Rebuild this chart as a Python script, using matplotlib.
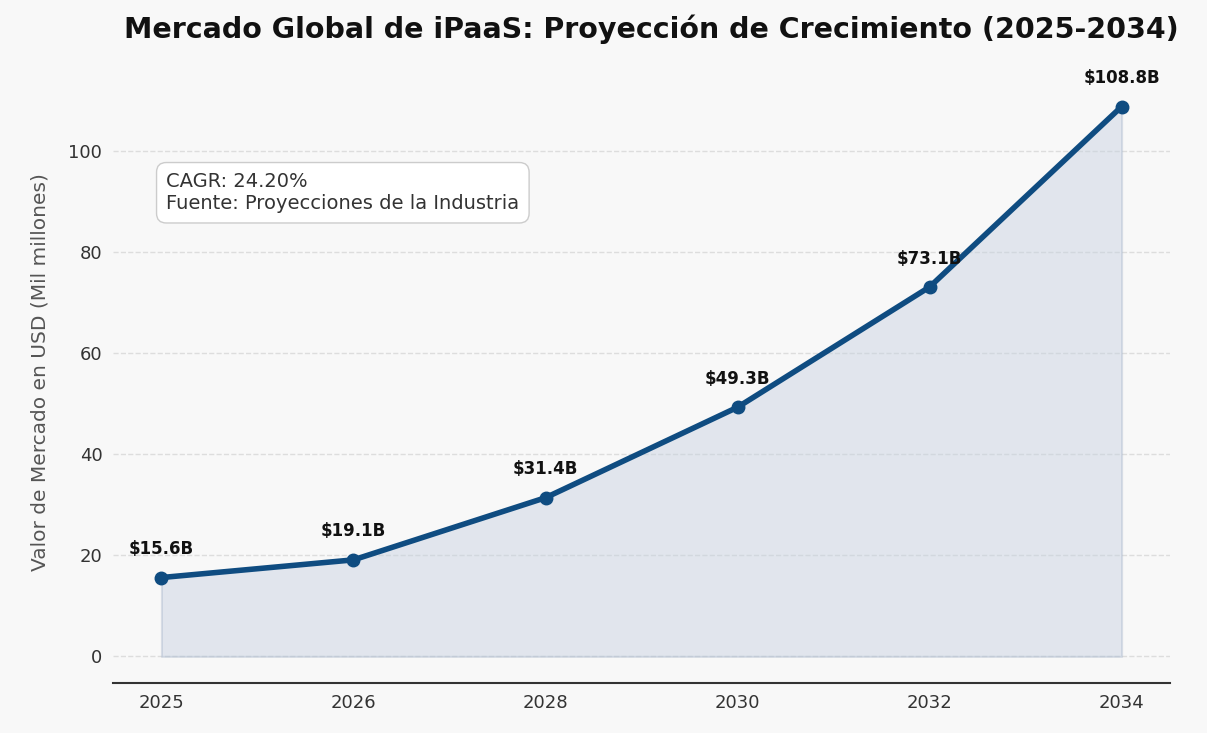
import matplotlib
matplotlib.use('Agg')
import matplotlib.pyplot as plt

years = ['2025', '2026', '2028', '2030', '2032', '2034']
values = [15.6, 19.1, 31.4, 49.3, 73.1, 108.8]
LINE = '#0f4c81'
BG = '#f8f8f8'

fig, ax = plt.subplots(figsize=(12.07, 7.33), dpi=100)
fig.patch.set_facecolor(BG)
ax.set_facecolor(BG)
fig.subplots_adjust(left=0.094, right=0.969, top=0.918, bottom=0.068)

x = list(range(len(years)))
ax.fill_between(x, values, color='#c5d0e0', alpha=0.45, edgecolor='#b0bdd0', linewidth=1.5)
ax.plot(x, values, color=LINE, linewidth=4, marker='o', markersize=9, zorder=3)
for xi, v in zip(x, values):
    ax.annotate(f'${v}B', (xi, v), xytext=(0, 14), textcoords='offset points',
                ha='center', va='bottom', fontsize=12, fontweight='bold', color='#111111')

ax.set_xticks(x)
ax.set_xticklabels(years)
ax.set_xlim(-0.25, 5.25)
ax.set_ylim(-5.3, 118)
ax.set_yticks([0, 20, 40, 60, 80, 100])
ax.tick_params(axis='both', labelsize=13, colors='#333333', length=0, pad=8)
ax.grid(axis='y', linestyle='--', color='#dddddd', linewidth=1)
ax.set_axisbelow(True)
for s in ['top', 'right', 'left']:
    ax.spines[s].set_visible(False)
ax.spines['bottom'].set_color('#333333')
ax.spines['bottom'].set_linewidth(1.5)

ax.set_ylabel('Valor de Mercado en USD (Mil millones)', fontsize=14.5, color='#555555', labelpad=14)
ax.set_title('Mercado Global de iPaaS: Proyección de Crecimiento (2025-2034)',
             fontsize=20.5, fontweight='bold', color='#111111', pad=16, x=0.509)

ax.text(0.05, 0.82, 'CAGR: 24.20%\nFuente: Proyecciones de la Industria',
        transform=ax.transAxes, fontsize=14, color='#333333', va='top',
        bbox=dict(boxstyle='round,pad=0.5', facecolor='white', edgecolor='#cccccc'))

fig.savefig('out.png', dpi=100, facecolor=BG)
